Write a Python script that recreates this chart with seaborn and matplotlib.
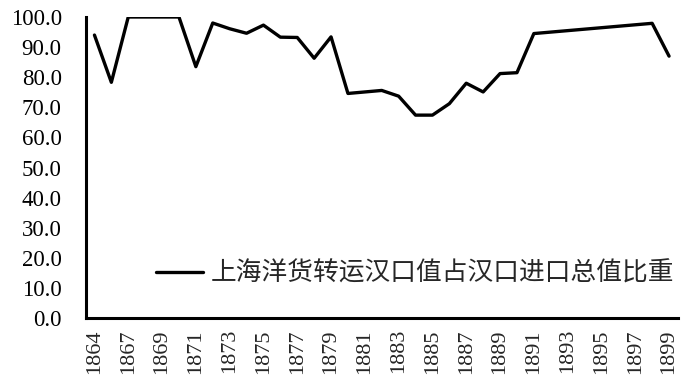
import numpy as np
import pandas as pd
import matplotlib
matplotlib.use("Agg")
import matplotlib.pyplot as plt
from matplotlib.ticker import FixedLocator, FixedFormatter
import seaborn as sns

# ---- data ----
years = [1864, 1865] + list(range(1867, 1900))
share = [94.0, 78.3, 100.0, 100.0, 100.0, 100.0, 83.5, 98.0, 96.1, 94.6,
         97.3, 93.3, 93.2, 86.3, 93.4, 74.6, 75.1, 75.6, 73.7, 67.4,
         67.4, 71.2, 78.0, 75.1, 81.2, 81.5, 94.5,
         np.nan, np.nan, np.nan, np.nan, np.nan, np.nan,
         97.9, 87.0]
series_name = "上海洋货转运汉口值占汉口进口总值比重"
ytick_vals = [0, 10, 20, 30, 40, 50, 60, 70, 80, 90, 100]

sns.set_style("white")
plt.rcParams['font.family'] = ['Liberation Serif', 'Noto Sans CJK SC', 'DejaVu Sans']

df = pd.DataFrame({"pos": np.arange(len(years)), "year": years, "share": share})
df_plot = df.dropna()

fig = plt.figure(figsize=(6.88, 3.78), dpi=100)
ax = fig.add_axes([86/688, 1-318/378, (677.5-86)/688, (318-17)/378])

sns.lineplot(data=df_plot, x="pos", y="share", ax=ax, color="black",
             linewidth=2.4, label=series_name, legend=False)

ax.set_xlim(-0.5, len(years) - 0.5)
ax.set_ylim(0, 100)
ax.set_xlabel("")
ax.set_ylabel("")

# y axis
ax.set_yticks(ytick_vals)
ax.set_yticklabels([f"{v:.1f}" for v in ytick_vals], fontsize=16.5,
                   family=['Liberation Serif'])
ax.tick_params(axis='y', direction='in', length=6, width=2, pad=17.5, colors='black')

# x axis: labels every other category, tick marks at category boundaries
major_pos = list(range(0, len(years), 2))
ax.xaxis.set_major_locator(FixedLocator(major_pos))
ax.xaxis.set_major_formatter(FixedFormatter([str(years[i]) for i in major_pos]))
ax.xaxis.set_minor_locator(FixedLocator(np.arange(-0.5, len(years), 1.0)))
ax.tick_params(axis='x', which='major', length=0, pad=8, labelrotation=90,
               labelsize=16)
ax.tick_params(axis='x', which='minor', direction='in', length=6, width=2)
for lab in ax.get_xticklabels():
    lab.set_family(['Liberation Serif'])

for s in ['top', 'right']:
    ax.spines[s].set_visible(False)
for s in ['left', 'bottom']:
    ax.spines[s].set_color('black')
    ax.spines[s].set_linewidth(2.2)

h, l = ax.get_legend_handles_labels()
fig.legend(h, l, loc='center left', bbox_to_anchor=(156/688, 1-274/378),
           frameon=False, prop={'family': ['Noto Sans CJK SC'], 'size': 18.5},
           handlelength=1.83, handletextpad=0.3, borderpad=0, borderaxespad=0)

fig.savefig("out.png", dpi=100)
